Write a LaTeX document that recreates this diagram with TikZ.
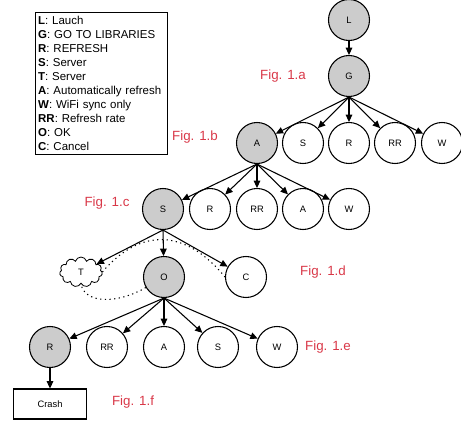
\documentclass[tikz,border=0pt]{standalone}
\usepackage{fontspec}
\setmainfont{Liberation Sans}
\usetikzlibrary{arrows.meta,shapes.symbols}
\definecolor{figred}{RGB}{217,56,72}

\begin{document}
\begin{tikzpicture}[x=0.75pt, y=-0.75pt,
  every node/.style = {font=\fontsize{7}{8}\selectfont},
  state/.style = {circle, draw, line width=0.8pt,
    minimum size=30.75pt, inner sep=0pt},
  active/.style = {state, fill=gray!40},
  figlabel/.style = {text=figred, font=\fontsize{10}{12}\selectfont},
  link/.style = {-{Triangle[length=5.5pt,width=5pt]}, line width=0.8pt},
  hint/.style = {line width=0.8pt, dash pattern=on 0.9pt off 2.6pt}]
  \useasboundingbox (0,0) rectangle (461,421);

  % legend
  \node[draw, line width=0.8pt, anchor=north west, align=left,
    text width=95pt, minimum height=106.5pt, inner sep=2pt,
    font=\fontsize{8.6}{10.5}\selectfont] (legend) at (35,12)
    {\textbf{L}: Lauch\\ \textbf{G}: GO TO LIBRARIES\\
     \textbf{R}: REFRESH\\ \textbf{S}: Server\\ \textbf{T}: Server\\
     \textbf{A}: Automatically refresh\\ \textbf{W}: WiFi sync only\\
     \textbf{RR}: Refresh rate\\ \textbf{O}: OK\\ \textbf{C}: Cancel};

  % level a
  \node[active] (L) at (349,20) {L};
  \node[active] (G) at (349,76) {G};
  \node[figlabel] (figa) at (283,76) {Fig. 1.a};

  % level b
  \node[active] (bA) at (257,143) {A};
  \node[state] (bS) at (303,143) {S};
  \node[state] (bR) at (349,143) {R};
  \node[state] (bRR) at (395,143) {RR};
  \node[state] (bW) at (442,143) {W};
  \node[figlabel] (figb) at (195,137) {Fig. 1.b};

  % level c
  \node[active] (cS) at (163,209) {S};
  \node[state] (cR) at (210,209) {R};
  \node[state] (cRR) at (257,209) {RR};
  \node[state] (cA) at (303,209) {A};
  \node[state] (cW) at (349,209) {W};
  \node[figlabel] (figc) at (107,203) {Fig. 1.c};

  % level d
  \node[cloud, draw, line width=0.6pt, cloud puffs=11, aspect=1.4,
    minimum width=32pt, minimum height=22.5pt, inner sep=0pt] (T) at (81,272) {T};
  \node[active] (O) at (164,277) {O};
  \node[state] (C) at (246,277) {C};
  \node[figlabel] (figd) at (323,272) {Fig. 1.d};

  % level e
  \node[active] (eR) at (50,347) {R};
  \node[state] (eRR) at (107,347) {RR};
  \node[state] (eA) at (164,347) {A};
  \node[state] (eS) at (218,347) {S};
  \node[state] (eW) at (277,347) {W};
  \node[figlabel] (fige) at (328,347) {Fig. 1.e};

  % level f
  \node[draw, line width=0.8pt, minimum width=54.75pt, minimum height=22.5pt] (crash) at (50,404) {Crash};
  \node[figlabel] (figf) at (133,402) {Fig. 1.f};

  % connectors
  \draw[link] (L) -- (G);
  \foreach \c in {bA,bS,bR,bRR,bW}
    \draw[link] (G.south) -- (\c);
  \foreach \c in {cS,cR,cRR,cA,cW}
    \draw[link] (bA.south) -- (\c);
  \foreach \c in {T,O,C}
    \draw[link] (cS.south) -- (\c);
  \foreach \c in {eR,eRR,eA,eS,eW}
    \draw[link] (O.south) -- (\c);
  \draw[link] (eR) -- (crash);

  \draw[hint] (T.east) .. controls (140,228) and (185,228) .. (C.west);
  \draw[hint] (O.210) .. controls (120,303) and (85,305) .. (T.south);
\end{tikzpicture}
\end{document}
